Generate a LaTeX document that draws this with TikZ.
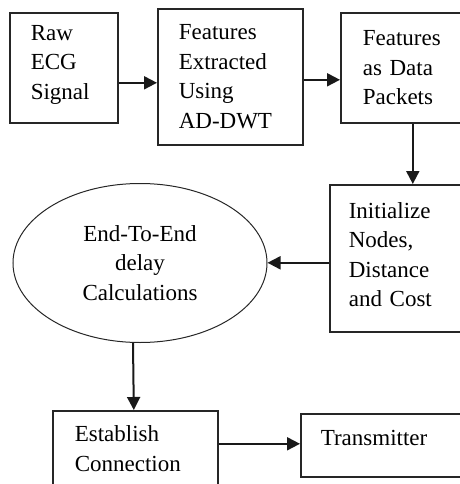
\documentclass[tikz,border=0pt]{standalone}
\usepackage{fontspec}
\setmainfont{Liberation Serif}
\usepackage{tikz}
\usetikzlibrary{positioning,arrows.meta,shapes.geometric}

\begin{document}
\begin{tikzpicture}[
  x=1pt, y=-1pt,
  font=\fontsize{23}{29.5}\selectfont,
  stage/.style={draw=black!85, line width=1.6pt, anchor=north west,
                align=left, inner ysep=0pt},
  calc/.style={ellipse, draw=black!85, line width=1pt, align=center,
               minimum width=254, minimum height=159},
  arr/.style={-{Triangle[length=13pt, width=13pt]}, line width=2pt, black!90}]

\useasboundingbox (0,0) rectangle (459,484);

% top row
\node[stage, minimum width=108, minimum height=110, text width=66, inner xsep=21,
      text depth=70pt] (raw) at (9,12) {Raw\\ECG\\Signal};
\node[stage, minimum width=145, minimum height=136, text width=103, inner xsep=21]
  (ext) at (157,8) {Features\\Extracted\\Using\\AD-DWT};
\node[stage, minimum width=125, minimum height=110, text width=81, inner xsep=22]
  (pkt) at (340,12) {Features\\as Data\\Packets};

% middle row
\node[stage, minimum width=136, minimum height=147, text width=98, inner xsep=19,
      text depth=96pt] (init) at (329,184) {Initialize\\Nodes,\\Distance\\and Cost};
\node[calc] (delay) at (140,263) {End-To-End\\delay\\Calculations};

% bottom row
\node[stage, minimum width=165, minimum height=76, text width=121, inner xsep=22]
  (conn) at (52,410) {Establish\\Connection};
\node[stage, minimum width=165, minimum height=63, text width=125, inner xsep=20,
      text depth=14pt] (tx) at (300,413) {Transmitter};

% edges
\draw[arr] ([yshift=-15pt]raw.east) -- ([yshift=-6pt]ext.west);
\draw[arr] ([yshift=-3pt]ext.east) -- ([yshift=-12pt]pkt.west);
\draw[arr] ([xshift=9.5pt]pkt.south) -- ([xshift=15pt]init.north);
\draw[arr] ([yshift=-4.5pt]init.west) -- ([yshift=-4.5pt]init.west -| delay.east);
\draw[arr] ([xshift=-7pt]delay.south) -- ([xshift=-1.5pt]conn.north);
\draw[arr] ([yshift=5pt]conn.east) -- ([yshift=1.5pt]tx.west);
\end{tikzpicture}
\end{document}
